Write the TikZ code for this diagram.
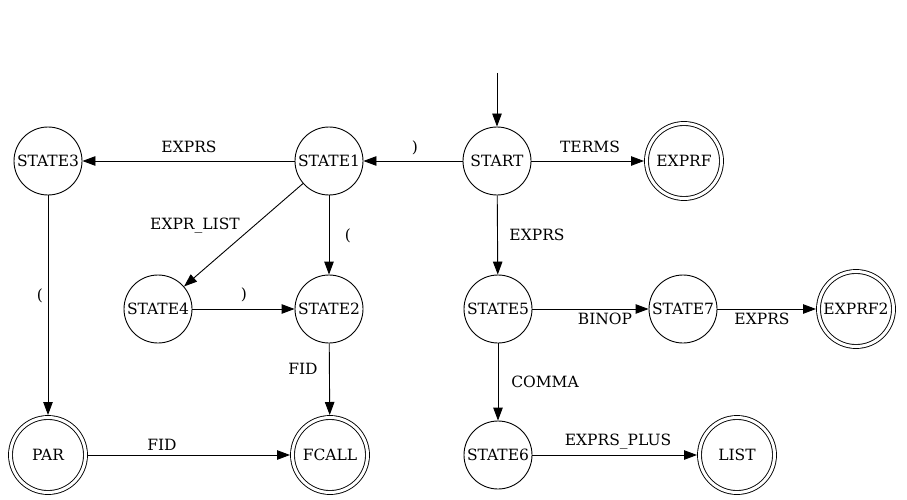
\documentclass[tikz,border=0pt]{standalone}
\usepackage{fontspec}
\setmainfont{DejaVu Serif}
\usetikzlibrary{arrows.meta}
\tikzset{
  state/.style={draw, circle, minimum size=68pt, inner sep=0pt, line width=0.9pt},
  finalstate/.style={state, minimum size=75pt, double, double distance=3pt, outer sep=2.5pt},
  trans/.style={-{Triangle[length=13pt,width=9.5pt]}, line width=0.9pt},
  lbl/.style={anchor=base, inner sep=0pt},
}
\begin{document}
\begin{tikzpicture}[x=1pt, y=-1pt, every node/.style={font=\fontsize{15.5}{18}\selectfont}]
                    \useasboundingbox (0,0) rectangle (907,500);
                    % states
                    \node (start) at (497,161) [state] {START};
                    \node (state1) at (329,161) [state] {STATE1};
                    \node (state3) at (48,161) [state] {STATE3};
                    \node (exprf) at (684,161) [finalstate] {EXPRF};
                    \node (state4) at (158,309) [state] {STATE4};
                    \node (state2) at (329,309) [state] {STATE2};
                    \node (state5) at (498,309) [state] {STATE5};
                    \node (state7) at (683,309) [state] {STATE7};
                    \node (exprf2) at (856,309) [finalstate] {EXPRF2};
                    \node (par) at (48,455) [finalstate] {PAR};
                    \node (fcall) at (330,455) [finalstate] {FCALL};
                    \node (state6) at (498,455) [state] {STATE6};
                    \node (list) at (737,455) [finalstate] {LIST};
                    \coordinate (init) at (497,73);
                    % transitions
                    \draw[trans] (init) -- (start);
                    \draw[trans] (start) -- (state1);
                    \draw[trans] (state1) -- (state3);
                    \draw[trans] (start) -- (exprf);
                    \draw[trans] (state1) -- (state4);
                    \draw[trans] (state1) -- (state2);
                    \draw[trans] (state3) -- (par);
                    \draw[trans] (state4) -- (state2);
                    \draw[trans] (state2) -- (fcall);
                    \draw[trans] (par) -- (fcall);
                    \draw[trans] (start) -- (state5);
                    \draw[trans] (state5) -- (state7);
                    \draw[trans] (state7) -- (exprf2);
                    \draw[trans] (state5) -- (state6);
                    \draw[trans] (state6) -- (list);
                    % labels
                    \node (l1) at (415,152) [lbl] {)};
                    \node (l2) at (189,153) [lbl] {EXPRS};
                    \node (l3) at (590,153) [lbl] {TERMS};
                    \node (l4) at (195,229) [lbl] {EXPR\_LIST};
                    \node (l5) at (348,240) [lbl] {(};
                    \node (l6) at (40,300) [lbl] {(};
                    \node (l7) at (244,299) [lbl] {)};
                    \node (l8) at (303,374) [lbl] {FID};
                    \node (l9) at (162,450) [lbl] {FID};
                    \node (l10) at (537,240) [lbl] {EXPRS};
                    \node (l11) at (605,324) [lbl] {BINOP};
                    \node (l12) at (762,324) [lbl] {EXPRS};
                    \node (l13) at (545,387) [lbl] {COMMA};
                    \node (l14) at (618,445) [lbl] {EXPRS\_PLUS};
                \end{tikzpicture}
\end{document}
